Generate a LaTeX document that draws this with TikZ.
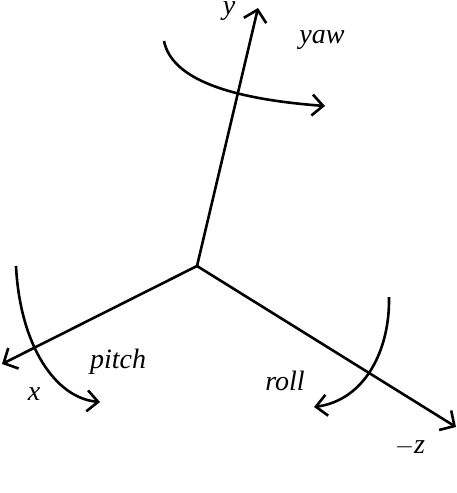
\documentclass[tikz,border=0pt]{standalone}
\usepackage{fontspec}
\setmainfont{Liberation Serif}
\usepackage{tikz}
\usetikzlibrary{positioning, arrows.meta}
\tikzset{
  axisline/.style={-{Straight Barb[length=11pt, width=23pt]}, black, line width=2.6pt},
  turnline/.style={-{Straight Barb[length=11pt, width=21pt]}, black, line width=2.6pt},
  axislabel/.style={font=\fontsize{28}{28}\selectfont\itshape, inner sep=0pt}
}

\begin{document}
\begin{tikzpicture}[x=1pt, y=-1pt]
  \useasboundingbox (0,0) rectangle (456,493);
  \coordinate (origin) at (197,266);
  \coordinate (ytip) at (258,8);
  \coordinate (xtip) at (2,364);
  \coordinate (ztip) at (456,427);
  \coordinate (yawstart) at (164,41);
  \coordinate (yawend) at (325,106);
  \coordinate (pitchstart) at (16,266);
  \coordinate (pitchend) at (100,402);
  \coordinate (rollstart) at (389,297);
  \coordinate (rollend) at (314,407);
  \draw[axisline] (origin) -- (ytip);
  \draw[axisline] (origin) -- (xtip);
  \draw[axisline] (origin) -- (ztip);
  \draw[turnline] (yawstart) .. controls (172,80) and (232,99) .. (yawend);
  \draw[turnline] (pitchstart) .. controls (20,345) and (55,398) .. (pitchend);
  \draw[turnline] (rollstart) .. controls (390,350) and (365,400) .. (rollend);
  \node[axislabel] (ylabel) at (229,11) {y};
  \node[axislabel] (yawlabel) at (322,40) {yaw};
  \node[axislabel] (pitchlabel) at (118,362) {pitch};
  \node[axislabel] (xlabel) at (34,394) {x};
  \node[axislabel] (rolllabel) at (285,381) {roll};
  \node[axislabel] (zlabel) at (410,447) {$-$z};
\end{tikzpicture}
\end{document}
